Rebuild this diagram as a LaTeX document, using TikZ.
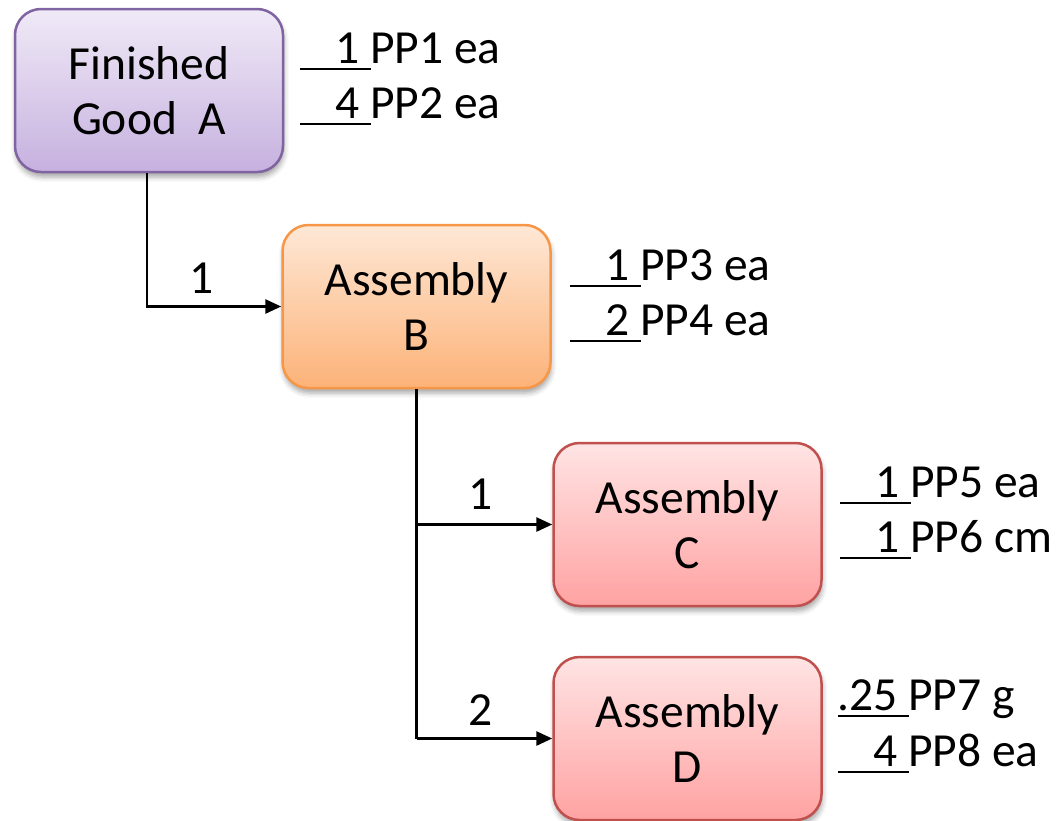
\documentclass[tikz,border=0pt]{standalone}
\usepackage{fontspec}
\setmainfont{Carlito}
\usetikzlibrary{arrows.meta,shadows.blur}

% box colours
\definecolor{goodLine}{HTML}{8064A2}
\definecolor{goodTop}{HTML}{F0EAF7}
\definecolor{goodBot}{HTML}{C6B1DF}
\definecolor{subLine}{HTML}{F79646}
\definecolor{subTop}{HTML}{FEE8D6}
\definecolor{subBot}{HTML}{FCB278}
\definecolor{leafLine}{HTML}{C0504D}
\definecolor{leafTop}{HTML}{FFE4E4}
\definecolor{leafBot}{HTML}{FFA2A2}

\tikzset{
  part/.style={rounded corners=26pt, line width=2.5pt,
    minimum width=268pt, minimum height=163pt, inner sep=0pt,
    align=center, font=\fontsize{47.5}{55}\selectfont,
    blur shadow={shadow xshift=1pt, shadow yshift=-5pt,
      shadow blur radius=5pt, shadow opacity=35}},
  goodbox/.style={part, draw=goodLine, top color=goodTop, bottom color=goodBot},
  subbox/.style={part, draw=subLine, top color=subTop, bottom color=subBot},
  leafbox/.style={part, draw=leafLine, top color=leafTop, bottom color=leafBot},
  qtxt/.style={inner sep=0pt, font=\fontsize{47.5}{55}\selectfont},
  uline/.style={line width=2.8pt},
  link/.style={line width=2.8pt, -{Triangle[length=16pt,width=14pt]}},
  trunk/.style={line width=2.8pt}
}

% one bill-of-materials row: name, underline start x, baseline y, quantity, part
\newcommand{\bomrow}[5]{%
  \node[qtxt, anchor=base east] (#1q) at (#2+60,#3) {#4};
  \node[qtxt, anchor=base west] (#1p) at (#2+70,#3) {#5};
  \draw[uline] (#2,#3+6) -- (#2+71,#3+6);
}

\begin{document}
\begin{tikzpicture}[x=1pt,y=-1pt]
\useasboundingbox (0,0) rectangle (1059,820);

% parts
\node[goodbox] (A) at (149,90.5)  {Finished\\Good~ A};
\node[subbox]  (B) at (416.5,306.5) {Assembly\\B};
\node[leafbox] (C) at (687.5,524.5) {Assembly\\C};
\node[leafbox] (D) at (687.5,738.5) {Assembly\\D};

% purchased parts per item
\bomrow{a1}{300}{63}{1}{PP1 ea}
\bomrow{a2}{300}{118}{4}{PP2 ea}
\bomrow{b1}{570}{280}{1}{PP3 ea}
\bomrow{b2}{570}{335}{2}{PP4 ea}
\bomrow{c1}{840}{497}{1}{PP5 ea}
\bomrow{c2}{840}{552}{1}{PP6 cm}
\bomrow{d1}{838}{710}{.25}{PP7 g}
\bomrow{d2}{838}{766}{4}{PP8 ea}

% structure links
\coordinate (aDown) at ([xshift=-2pt]A.south);
\draw[link] (aDown) -- (aDown |- B.west) -- (B.west);
\draw[trunk] (B.south) -- (B.south |- D.west);
\draw[link] (B.south |- C.west) -- (C.west);
\draw[link] (B.south |- D.west) -- (D.west);

% quantities on links
\node[qtxt, anchor=base] (nB) at (202,293) {1};
\node[qtxt, anchor=base] (nC) at (481,509) {1};
\node[qtxt, anchor=base] (nD) at (481,725) {2};
\end{tikzpicture}
\end{document}
